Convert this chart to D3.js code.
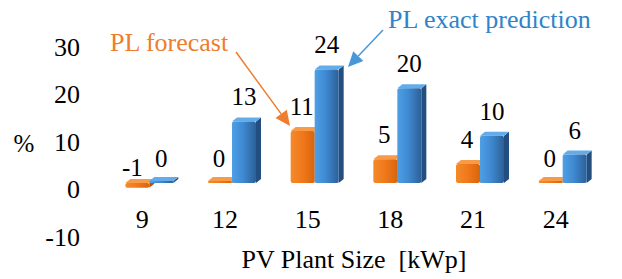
<!DOCTYPE html>
<html><head><meta charset="utf-8">
<script src="https://cdn.jsdelivr.net/npm/d3@7"></script>
</head>
<body style="margin:0;background:#fff"><svg id="c" width="622" height="279" style="display:block"></svg>
<script>
const categories = ["9","12","15","18","21","24"];
const forecast = [-1, 0, 11, 5, 4, 0];
const exact = [0, 13, 24, 20, 10, 6];
const yTicks = [30, 20, 10, 0, -10];
const seriesNames = ["PL forecast", "PL exact prediction"];
const xTitle = "PV Plant Size\u00a0\u00a0[kWp]";
const yTitle = "%";

const FONT = '"Liberation Serif"';
const svg = d3.select("#c");
const defs = svg.append("defs");

function grad(id, stops){
  const g = defs.append("linearGradient").attr("id", id).attr("x1","0").attr("x2","1").attr("y1","0").attr("y2","0");
  stops.forEach(s=>g.append("stop").attr("offset",s[0]).attr("stop-color",s[1]));
}
grad("gOr", [[0,"#f48a2a"],[0.5,"#f0781a"],[1,"#d8650c"]]);
grad("gBl", [[0,"#4e9fe6"],[0.45,"#3f8ad2"],[1,"#2c6098"]]);
const sh = defs.append("filter").attr("id","shadow").attr("x","-10%").attr("y","-50%").attr("width","120%").attr("height","300%");
sh.append("feGaussianBlur").attr("in","SourceAlpha").attr("stdDeviation",1.2);
sh.append("feOffset").attr("dy",1.5).attr("result","b");
sh.append("feComponentTransfer").append("feFuncA").attr("type","linear").attr("slope",0.35);
const m = sh.append("feMerge"); m.append("feMergeNode"); m.append("feMergeNode").attr("in","SourceGraphic");

function txt(sel){ return sel.attr("font-family","Liberation Serif").style("font-family",FONT); }

// scales
const x = d3.scaleBand().domain(categories).range([101, 597]).padding(0);
const y = d3.scaleLinear().domain([-10, 30]).range([236.5, 47]);       // front axis / labels
const yb = d3.scaleLinear().domain([-10, 30]).range([230.3, 41]);      // bar plane (back offset)

// gridlines
svg.append("line").attr("x1",120).attr("x2",618).attr("y1",yb(0)-9).attr("y2",yb(0)-9)
  .attr("stroke","#d6d6d6").attr("stroke-width",3).attr("filter","url(#shadow)");
[0,-10].forEach(v=>{
  svg.append("line").attr("x1",101).attr("x2",597).attr("y1",y(v)+1).attr("y2",y(v)+1)
    .attr("stroke","#d6d6d6").attr("stroke-width",3).attr("filter","url(#shadow)");
});

// y tick labels
txt(svg.append("g").selectAll("text").data(yTicks).join("text")
  .attr("x",80).attr("y",d=>y(d)+9).attr("text-anchor","end")
  .attr("font-size",26).attr("fill","#000")).text(d=>d);

// y title
txt(svg.append("text").attr("x",24).attr("y",152).attr("text-anchor","middle").attr("font-size",25)).text(yTitle);

// x tick labels
txt(svg.append("g").selectAll("text").data(categories).join("text")
  .attr("x",d=>x(d)+x.bandwidth()/2).attr("y",228).attr("text-anchor","middle")
  .attr("font-size",26)).text(d=>d);

// x title
txt(svg.append("text").attr("x",354).attr("y",268).attr("text-anchor","middle").attr("font-size",26)).text(xTitle);

// bars
const W = 24, DX = 5, DY = 4;
function drawBar(g, x0, v, fill, topC, sideC){
  let yt = yb(Math.max(v,0)), ybt = yb(Math.min(v,0));
  if (Math.abs(ybt-yt) < 2) yt = ybt - 2;
  const h = ybt-yt;
  g.append("path").attr("d",`M${x0+W},${yt}L${x0+W+DX},${yt-DY}L${x0+W+DX},${ybt-DY}L${x0+W},${ybt}Z`).attr("fill",sideC);
  g.append("path").attr("d",`M${x0},${yt}L${x0+DX},${yt-DY}L${x0+W+DX},${yt-DY}L${x0+W},${yt}Z`).attr("fill",topC);
  g.append("rect").attr("x",x0).attr("y",yt).attr("width",W).attr("height",h).attr("rx",Math.min(2,h/2)).attr("fill",fill);
}
const bars = svg.append("g");
categories.forEach((c,i)=>{
  const cx = x(c)+x.bandwidth()/2;
  drawBar(bars, cx-17, forecast[i], "url(#gOr)", "#f79a4a", "#b85508");
  drawBar(bars, cx+7, exact[i], "url(#gBl)", "#62ade9", "#234f80");
});

// data labels
const lab = svg.append("g").attr("font-size",25).attr("text-anchor","middle");
categories.forEach((c,i)=>{
  const cx = x(c)+x.bandwidth()/2;
  const f = forecast[i], e = exact[i];
  txt(lab.append("text").attr("x", f<0 ? cx-10 : cx-17+W/2-1).attr("y", f<0 ? yb(0)-7 : yb(f)-16)).text(f);
  txt(lab.append("text").attr("x", cx+7+W/2).attr("y", yb(e)-16)).text(e);
});

// annotations
function arrow(x1,y1,x2,y2,color){
  const a = Math.atan2(y2-y1,x2-x1), L=15, Wd=7;
  const bx = x2 - L*Math.cos(a), by = y2 - L*Math.sin(a);
  svg.append("line").attr("x1",x1).attr("y1",y1).attr("x2",bx).attr("y2",by).attr("stroke",color).attr("stroke-width",1.5);
  const px = -Math.sin(a)*Wd, py = Math.cos(a)*Wd;
  svg.append("path").attr("d",`M${x2},${y2}L${bx+px},${by+py}L${bx-px},${by-py}Z`).attr("fill",color);
}
txt(svg.append("text").attr("x",110).attr("y",51).attr("font-size",26).attr("fill","#ee7d2e")).text(seriesNames[0]);
arrow(236,52,290,126,"#ee7d2e");
txt(svg.append("text").attr("x",388).attr("y",28).attr("font-size",26).attr("fill","#2f84c9")).text(seriesNames[1]);
arrow(383,30,348,67,"#4a97d8");
</script></body></html>
